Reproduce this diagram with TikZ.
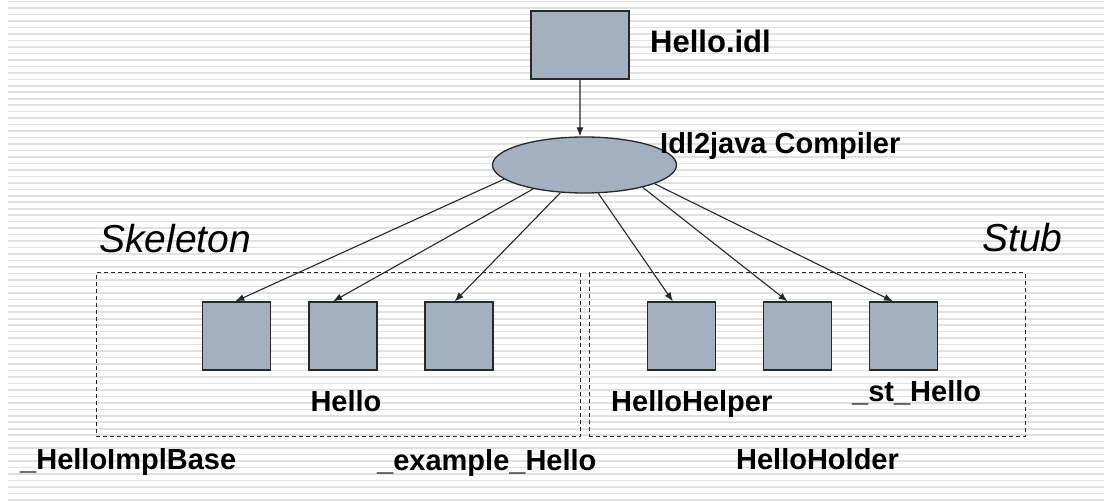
\documentclass[tikz,border=0pt]{standalone}
\usepackage{fontspec}
\setmainfont{Liberation Sans}
\usepackage{tikz}
\usetikzlibrary{arrows.meta,positioning,shapes.geometric}
\definecolor{boxfill}{RGB}{162,176,192}
\definecolor{edge}{RGB}{40,40,40}
\tikzset{
  srcfile/.style={draw=edge, line width=1.3pt, fill=boxfill, minimum width=98pt, minimum height=68pt, inner sep=0pt},
  classfile/.style={draw=edge, line width=1.3pt, fill=boxfill, minimum width=68pt, minimum height=68pt, inner sep=0pt},
  compiler/.style={draw=edge, line width=1.3pt, fill=boxfill, ellipse, minimum width=184pt, minimum height=56pt, inner sep=0pt},
  groupbox/.style={draw=edge, dash pattern=on 4pt off 3pt, line width=1pt, minimum height=164pt, inner sep=0pt},
  nametext/.style={inner sep=0pt, anchor=base west, font=\fontsize{29}{34}\selectfont\bfseries},
  sidetext/.style={inner sep=0pt, anchor=base west, font=\fontsize{39}{46}\selectfont\itshape},
  gen/.style={-{Latex[length=9pt,width=7pt]}, draw=edge, line width=1.1pt},
  stripe/.style={draw=black!12, line width=1.6pt},
}

\begin{document}
\begin{tikzpicture}[x=1pt,y=-1pt]
  \useasboundingbox (0,0) rectangle (1104,502);
  \fill[white] (0,0) rectangle (1104,502);
  \foreach \i in {0,...,77} {\draw[stripe] (8,{1.7+6.47*\i}) -- (1104,{1.7+6.47*\i});}
  % the two groups
  \node[groupbox, minimum width=484pt] (skel) at (338,355) {};
  \node[groupbox, minimum width=436pt] (stub) at (807,355) {};
  % idl file and compiler
  \node[srcfile] (idl) at (580,45) {};
  \node[compiler] (comp) at (584.5,165) {};
  \node[classfile] (implbase) at (236.5,336) {};
  \node[classfile] (hello) at (343,336) {};
  \node[classfile] (example) at (459,336) {};
  \node[classfile] (helper) at (681.5,336) {};
  \node[classfile] (holder) at (797.5,336) {};
  \node[classfile] (sthello) at (903.5,336) {};
  \draw[gen] (idl.south) -- (comp.99);
  \draw[gen] (comp.190) -- (implbase.92);
  \draw[gen] (comp.205) -- (hello.106);
  \draw[gen] (comp.229) -- (example.97);
  \draw[gen] (comp.296) -- (helper.104);
  \draw[gen] (comp.339) -- (holder.106);
  \draw[gen] (comp.345) -- (sthello.107);
  % texts
  \node[nametext, font=\fontsize{31}{36}\selectfont\bfseries] (idltext) at (650,53) {Hello.idl};
  \node[nametext] (comptext) at (660,154) {Idl2java Compiler};
  \node[sidetext] (skeltext) at (99,253) {Skeleton};
  \node[sidetext] (stubtext) at (982,252) {Stub};
  \node[nametext, anchor=base] (hellotext) at (346,412) {Hello};
  \node[nametext] (helpertext) at (611,412) {HelloHelper};
  \node[nametext] (sthellotext) at (852,402) {\_st\_Hello};
  \node[nametext, anchor=base] (holdertext) at (817.5,470) {HelloHolder};
  \node[nametext] (implbasetext) at (20,470) {\_HelloImplBase};
  \node[nametext] (exampletext) at (377,471) {\_example\_Hello};
\end{tikzpicture}
\end{document}
